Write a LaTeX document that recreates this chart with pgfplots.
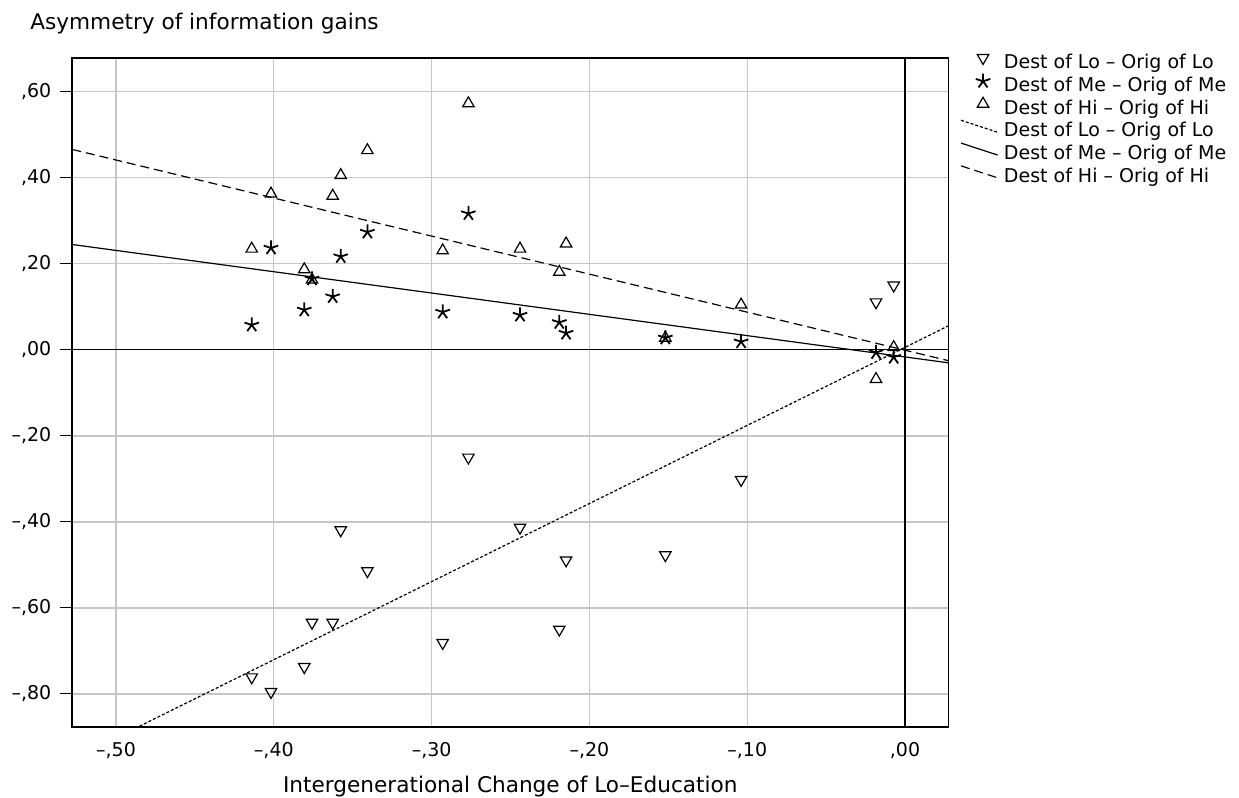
\documentclass[border=0pt]{standalone}
\usepackage{fontspec}
\setmainfont{DejaVu Sans}
\usepackage{pgfplots}
\pgfplotsset{compat=1.18}

% legend images: slanted line for fit lines, single mark for the scatters
\pgfplotsset{
  lineimg/.style={legend image code/.code={
      \path[draw=none, fill=none] (0pt,-2pt) rectangle (18.3pt,6pt);
      \draw[##1] (0pt,5.8pt) -- (18.3pt,-0.2pt);}},
  markimg/.style={legend image code/.code={
      \path[draw=none, fill=none] (0pt,-2pt) rectangle (18.3pt,6pt);
      \draw[##1] plot coordinates {(11pt,2.6pt)};}},
}

\pgfplotstableread{
x      lo      me      hi
-0.4140 -0.761  0.058  0.235
-0.4018 -0.795  0.237  0.363
-0.3807 -0.737  0.093  0.187
-0.3758 -0.634  0.165  0.163
-0.3627 -0.634  0.124  0.358
-0.3576 -0.419  0.217  0.406
-0.3407 -0.514  0.274  0.464
-0.2930 -0.681  0.088  0.231
-0.2767 -0.250  0.317  0.573
-0.2440 -0.413  0.081  0.235
-0.2191 -0.650  0.064  0.181
-0.2148 -0.489  0.039  0.247
-0.1519 -0.477  0.028  0.028
-0.1039 -0.302  0.019  0.105
-0.0184  0.111 -0.006 -0.068
-0.0072  0.150 -0.017  0.006
}\gains

\begin{document}
\begin{tikzpicture}
\path[use as bounding box] (-36.15pt,-35.35pt) rectangle (583.35pt,363.65pt);
\begin{axis}[
  at={(0,0)}, anchor=south west,
  scale only axis, width=438pt, height=334.5pt,
  xmin=-0.5277, xmax=0.0274, ymin=-0.8775, ymax=0.678,
  xtick={-0.5,-0.4,-0.3,-0.2,-0.1,0},
  xticklabels={{–,50},{–,40},{–,30},{–,20},{–,10},{,00}},
  ytick={-0.8,-0.6,-0.4,-0.2,0,0.2,0.4,0.6},
  yticklabels={{–,80},{–,60},{–,40},{–,20},{,00},{,20},{,40},{,60}},
  tick align=outside, major tick length=6pt, ytick pos=left, xtick pos=bottom,
  xtick style={draw=none}, ytick style={black, line width=0.5pt},
  ticklabel style={font=\fontsize{9.5}{11}\selectfont},
  xticklabel style={yshift=2pt}, yticklabel style={xshift=-1pt},
  grid=major, grid style={gray!45, line width=0.6pt},
  axis line style={black, line width=0.8pt},
  xlabel={Intergenerational Change of Lo–Education},
  ylabel={Asymmetry of information gains},
  every axis x label/.style={at={(axis description cs:0.5,-0.0978)}, anchor=base, inner sep=0pt, font=\fontsize{10.8}{13}\selectfont},
  every axis y label/.style={at={(axis description cs:-0.0483,1.0423)}, anchor=base west, inner sep=0pt, font=\fontsize{10.8}{13}\selectfont},
  legend style={at={(1.0134,1.0114)}, anchor=north west, draw=none, fill=none,
    inner sep=0pt, column sep=2.85pt, row sep=0.8pt,
    font=\fontsize{9.5}{11}\selectfont,
    nodes={inner sep=0pt, text height=7pt, text depth=2pt}},
  legend cell align=left,
]
% reference lines at zero
\addplot[forget plot, black, line width=0.6pt] coordinates {(-0.6,0) (0.1,0)};
\addplot[forget plot, black, line width=0.6pt] coordinates {(0,-1) (0,1)};

\addplot[only marks, markimg, mark=triangle, mark size=3.3pt, mark options={rotate=180, line width=0.6pt}]
  table[x=x, y=lo] {\gains};
\addlegendentry{Dest of Lo – Orig of Lo}
\addplot[only marks, markimg, mark=star, mark size=3.8pt, mark options={line width=0.9pt}]
  table[x=x, y=me] {\gains};
\addlegendentry{Dest of Me – Orig of Me}
\addplot[only marks, markimg, mark=triangle, mark size=3.3pt, mark options={line width=0.6pt}]
  table[x=x, y=hi] {\gains};
\addlegendentry{Dest of Hi – Orig of Hi}

% fit lines
\addplot[lineimg, black, line width=0.6pt, dash pattern=on 1.5pt off 1pt]
  coordinates {(-0.5277,-0.9523) (0.0274,0.0558)};
\addlegendentry{Dest of Lo – Orig of Lo}
\addplot[lineimg, black, line width=0.6pt]
  coordinates {(-0.5277,0.245) (0.0274,-0.030)};
\addlegendentry{Dest of Me – Orig of Me}
\addplot[lineimg, black, line width=0.6pt, dash pattern=on 4.5pt off 2.5pt]
  coordinates {(-0.5277,0.466) (0.0274,-0.025)};
\addlegendentry{Dest of Hi – Orig of Hi}
\end{axis}
\end{tikzpicture}
\end{document}
